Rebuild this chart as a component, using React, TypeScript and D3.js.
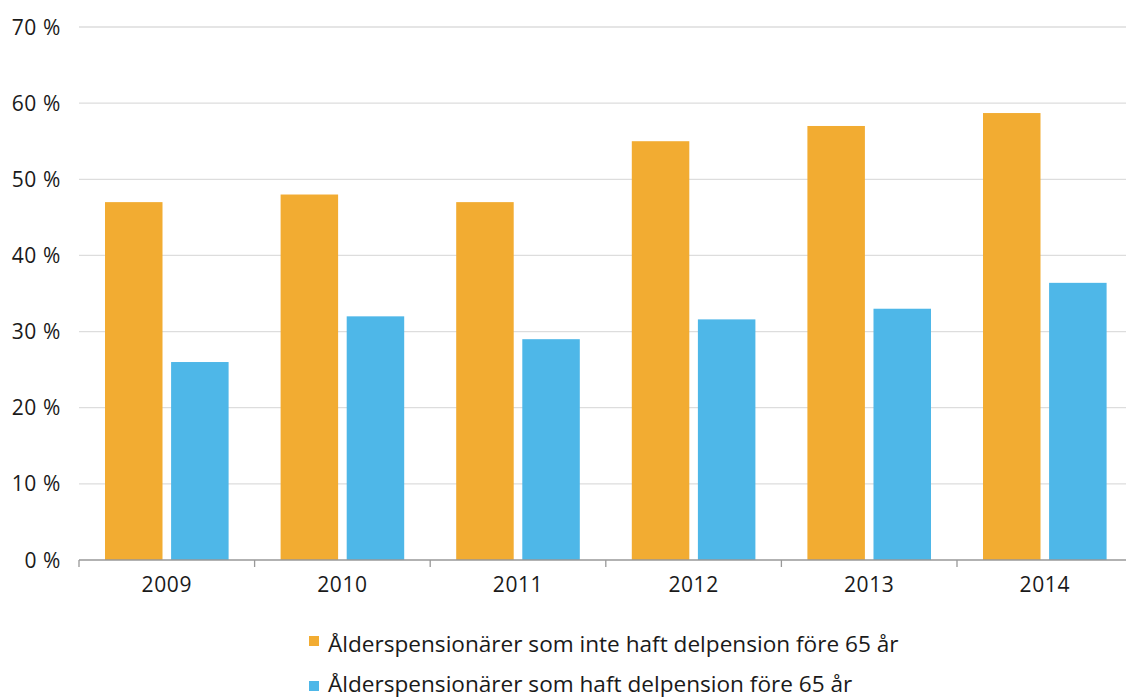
import React from "react";
import * as d3 from "d3";

const years = ["2009", "2010", "2011", "2012", "2013", "2014"];
const seriesNames = [
  "Ålderspensionärer som inte haft delpension före 65 år",
  "Ålderspensionärer som haft delpension före 65 år",
];
const utanDelpension = [47, 48, 47, 55, 57, 58.7];
const medDelpension = [26, 32, 29, 31.6, 33, 36.4];
const yTicks = [0, 10, 20, 30, 40, 50, 60, 70];
const colors = ["#F2AC32", "#4EB7E8"];

const W = 1126;
const H = 699;
const FONT = "'Open Sans', sans-serif";

export default function App() {
  const x = d3.scaleBand<string>().domain(years).range([79, 79 + 6 * 175.6]).paddingInner(0).paddingOuter(0);
  const inner = d3.scaleBand<number>().domain([0, 1]).range([26, x.bandwidth() - 26]).paddingInner(0.13);
  const y = d3.scaleLinear().domain([0, 70]).range([560, 27]);
  const series = [utanDelpension, medDelpension];

  return (
    <svg width={W} height={H} style={{ position: "absolute", left: 0, top: 0, background: "#fff" }} fontFamily={FONT}>
      {yTicks.map((t) => (
        <g key={t}>
          {t > 0 && <line x1={79} x2={W} y1={y(t)} y2={y(t)} stroke="#dddddd" strokeWidth={1.3} />}
          <text x={61} y={y(t) + 7.5} textAnchor="end" fontSize={21} letterSpacing={0.6} fill="#1a1a1a">
            {t} %
          </text>
        </g>
      ))}
      {years.map((yr, i) =>
        series.map((s, k) => (
          <rect
            key={yr + k}
            x={(x(yr) as number) + (inner(k) as number)}
            y={y(s[i])}
            width={inner.bandwidth()}
            height={y(0) - y(s[i])}
            fill={colors[k]}
          />
        ))
      )}
      <line x1={79} x2={W} y1={560} y2={560} stroke="#999" strokeWidth={1.3} />
      {[...years.map((yr) => x(yr) as number), (x(years[5]) as number) + x.bandwidth()].map((tx, i) => (
        <line key={i} x1={tx} x2={tx} y1={560} y2={567} stroke="#999" strokeWidth={1.3} />
      ))}
      {years.map((yr) => (
        <text key={yr} x={(x(yr) as number) + x.bandwidth() / 2} y={592} textAnchor="middle" fontSize={21} letterSpacing={0.6} fill="#1a1a1a">
          {yr}
        </text>
      ))}
      {seriesNames.map((n, k) => (
        <g key={n}>
          <rect x={309} y={636 + k * 45} width={10} height={10} fill={colors[k]} />
          <text x={328} y={652 + k * 40} fontSize={22.6} fill="#1a1a1a">
            {n}
          </text>
        </g>
      ))}
    </svg>
  );
}
